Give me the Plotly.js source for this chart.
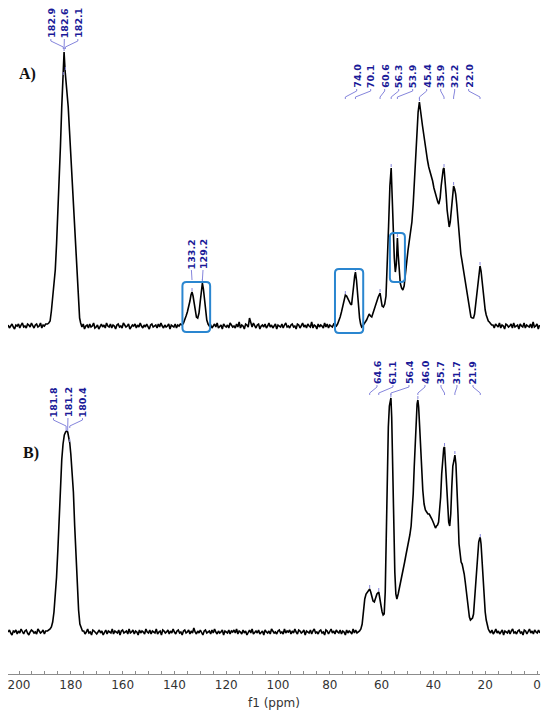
<!DOCTYPE html>
<html><head><meta charset="utf-8">
<script src="https://cdn.plot.ly/plotly-3.0.1.min.js"></script>
<style>html,body{margin:0;padding:0;background:#fff}#chart{width:550px;height:714px}</style>
</head><body><div id="chart"></div>
<script>
// ---------------- DATA (ppm, intensity) ----------------
// Spectrum A: peak regions
const A_carbonyl = [[189,2],[188.5,3],[188,5],[187.5,15],[187,28],[186.5,40],[186,56],[185.5,82],[185,112],[184.5,148],[184,180],[183.5,219],[183,250],[182.6,274],[182.2,255],[181.7,240],[181.0,219],[180.5,195],[180.0,170],[179.5,143],[179.0,117],[178.5,92],[178.0,67],[177.5,43],[177.0,22],[176.6,8],[176.2,3]];
const A_aromatic = [[137,1],[136.5,3],[136,6],[135.5,10],[135,14],[134.5,19],[134,25],[133.6,31],[133.2,34],[132.8,30],[132.4,22],[132,14],[131.5,9],[131,8],[130.5,13],[130,25],[129.6,37],[129.2,43],[128.8,37],[128.4,25],[128,14],[127.5,6],[127,2],[126.5,0]];
const A_aliphatic = [[77.5,0],[77,2],[76.5,5],[76,9],[75.5,14],[75,20],[74.5,26],[74.0,31],[73.5,30],[73,27],[72.5,25],[72,22],[71.6,21],[71.2,28],[70.8,40],[70.4,50],[70.1,54],[69.7,46],[69.3,32],[68.9,18],[68.5,8],[68.1,2],[67.7,-1],[67.3,0],[66.8,2],[66.3,3],[65.8,6],[65.3,9],[64.8,12],[64.3,10],[63.8,9],[63.3,13],[62.8,17],[62.3,22],[61.8,25],[61.3,29],[60.6,33],[60.2,27],[59.8,20],[59.3,19],[58.8,22],[58.3,30],[57.8,60],[57.3,100],[56.8,140],[56.3,158],[55.9,128],[55.5,95],[55.1,68],[54.7,54],[54.3,62],[54.0,82],[53.9,88],[53.6,72],[53.2,52],[52.8,43],[52.3,38],[51.8,36],[51.3,40],[50.8,50],[50.3,64],[49.8,76],[49.3,86],[48.8,95],[48.3,104],[47.8,122],[47.3,148],[46.8,172],[46.3,196],[45.9,214],[45.4,224],[45.0,218],[44.6,208],[44.2,200],[43.8,192],[43.3,182],[42.8,173],[42.3,166],[41.8,159],[41.3,155],[40.8,150],[40.3,145],[39.8,138],[39.3,133],[38.8,128],[38.3,124],[37.9,122],[37.4,128],[37.0,140],[36.6,150],[36.2,157],[35.9,158],[35.5,148],[35.1,132],[34.7,116],[34.3,104],[33.9,99],[33.5,104],[33.1,118],[32.7,131],[32.4,139],[32.2,140],[31.8,137],[31.4,132],[31.0,122],[30.6,108],[30.2,92],[29.8,80],[29.4,72],[29.0,66],[28.5,58],[28.0,50],[27.5,42],[27.1,34],[26.7,27],[26.3,19],[25.9,13],[25.5,9],[25.0,8],[24.5,8],[24.1,12],[23.6,24],[23.1,40],[22.6,52],[22.3,58],[22.0,60],[21.6,55],[21.2,44],[20.8,32],[20.4,22],[20.0,16],[19.6,11],[19.2,7],[18.8,5],[18.4,4],[18.0,3],[17.5,1]];
// Spectrum A: baseline noise, sampled every 0.5 ppm from the given start
const NOISE_STEP = -0.5;
const A_noise1_start = 204.2;
const A_noise1 = [1,-2,0,2,-1,-3,1,0,2,-2,1,3,-1,0,-2,2,1,-1,3,0,-2,1,2,-1,0,3,-2,1,0,2];
const A_noise2_start = 175.7;
const A_noise2 = [-1,2,-3,0,1,-2,2,-1,0,3,-2,-1,1,-3,0,2,-1,1,-2,3,0,-1,2,-2,1,0,-3,1,2,-1,0,-2,3,1,-1,0,2,-3,-1,1,0,2,-2,1,-1,3,0,-2,1,-1,2,0,-3,1,2,-1,0,1,-2,2,-1,3,0,-2,1,-1,0,2,-3,1,0,-1,2,-2,1,0,2];
const A_noise3_start = 126.0;
const A_noise3 = [1,-2,0,2,-1,3,-2,0,1,-3,2,0,-1,1,-2,3,1,-1,0,-2,2,-1,4,-2,1,0,-3,2,1,-1,8,2,-1,3,0,-2,1,2,-3,0,1,-1,2,-2,0,3,-1,1,-2,0,2,-3,1,0,-1,2,-2,1,3,-1,0,-2,1,2,-1,0,-3,2,1,-2,0,3,-1,1,-2,2,0,-1,4,-2,1,0,-3,2,-1,1,0,-2,3,-1,2,-2,1,0,-1,2];
const A_noise4_start = 17.0;
const A_noise4 = [1,-2,2,0,-1,3,-2,1,0,-3,2,1,-1,0,2,-2,3,-1,0,1,-3,2,0,-1,3,-2,1,0,-1,2,-2,4,-1,0,2,-3,1];

// Spectrum B: peak regions
const B_carbonyl = [[189,1],[188.5,2],[188,3],[187.5,5],[187,10],[186.5,20],[186,34],[185.5,55],[185,82],[184.5,112],[184,150],[183.5,172],[183,188],[182.5,197],[182,200],[181.6,201],[181.2,200],[180.8,196],[180.4,189],[180,178],[179.5,160],[179,140],[178.5,106],[178,78],[177.5,42],[177,22],[176.5,8],[176,3],[175.5,1]];
const B_aliphatic = [[68.5,1],[68,3],[67.5,8],[67,20],[66.5,33],[66,38],[65.5,40],[65,42],[64.6,43],[64.2,40],[63.8,35],[63.3,31],[62.8,30],[62.3,34],[61.8,38],[61.1,40],[60.6,34],[60.2,26],[59.8,20],[59.4,17],[59.0,18],[58.6,40],[58.2,95],[57.8,160],[57.4,205],[57.0,226],[56.6,233],[56.4,234],[56.1,215],[55.7,160],[55.3,100],[54.9,60],[54.5,38],[54.1,33],[53.6,38],[53.1,44],[52.6,50],[52.1,55],[51.6,62],[51.1,70],[50.6,77],[50.1,83],[49.6,89],[49.1,97],[48.6,106],[48.2,118],[47.8,138],[47.4,165],[47.0,192],[46.6,215],[46.3,228],[46.0,232],[45.7,225],[45.3,205],[44.9,180],[44.5,158],[44.1,142],[43.6,128],[43.1,122],[42.6,120],[42.1,118],[41.6,118],[41.1,116],[40.6,113],[40.1,110],[39.6,106],[39.2,104],[38.8,106],[38.4,107],[38.0,110],[37.6,120],[37.2,135],[36.8,158],[36.4,176],[36.0,184],[35.7,185],[35.3,168],[34.9,145],[34.5,124],[34.1,110],[33.7,106],[33.3,118],[32.9,145],[32.5,166],[32.1,171],[31.7,177],[31.3,168],[30.9,148],[30.5,118],[30.1,88],[29.7,74],[29.3,70],[28.9,68],[28.5,64],[28.1,58],[27.7,50],[27.3,40],[26.9,30],[26.5,22],[26.1,15],[25.7,12],[25.3,13],[24.9,14],[24.5,18],[24.1,32],[23.7,50],[23.3,68],[22.9,82],[22.5,90],[22.1,94],[21.9,94],[21.6,88],[21.2,70],[20.8,50],[20.4,32],[20.0,20],[19.6,12],[19.2,6],[18.8,3]];
const B_noise1_start = 204.2;
const B_noise1 = [0,2,-1,-3,1,0,2,-2,1,-1,3,0,-2,1,2,-1,-3,0,2,1,-1,0,-2,3,1,-1,0,2,-2,1];
const B_noise2_start = 175.0;
const B_noise2 = [1,-2,0,3,-1,0,-3,2,1,-1,-2,0,2,-1,1,-3,0,2,-2,1,0,-1,3,-2,1,0,-1,2,-3,1,2,-1,0,1,-2,3,-1,0,2,-2,1,0,-3,2,-1,1,0,-2,3,0,-1,2,-2,1,0,-1,3,-2,0,1,-3,2,1,-1,0,2,-2,1,-1,3,0,-2,1,2,-1,0,-3,1,2,-1,0,2,-2,1,-1,4,0,-2,1,-1,2,0,-3,1,2,-1,0,1,-2,2,-1,3,0,-2,1,-1,0,2,-3,1,0,-1,2,-2,1,0,2,-1,3,-2,1,0,-2,2,-1,1,-3,0,2,-1,3,-2,0,1,-1,2,-2,0,1,-3,2,0,-1,1,-2,3,1,-1,0,-2,1,2,-1,0,-2,3,-1,1,0,2,-2,1,-1,3,0,-2,2,1,-1,0,2,-3,1,0,-1,2,-2,1,3,-1,0,-2,1,2,-1,0,-3,2,1,-2,0,3,-1,1,-2,2,0,-1,2,-2,1,0,-3,2,-1,1,0,-2,3,-1,2,-1];
const B_noise3_start = 18.4;
const B_noise3 = [1,-1,2,-2,0,3,-1,1,-2,0,2,-3,1,0,-1,2,-2,1,3,-1,0,-2,1,2,-1,0,-3,2,1,-2,0,3,-1,1,-2,2,0,-1,2,-1];

// Peak labels (ppm)
const A_labels_1 = [182.9, 182.6, 182.1];
const A_labels_2 = [133.2, 129.2];
const A_labels_3 = [74.0, 70.1, 60.6, 56.3, 53.9, 45.4, 35.9, 32.2, 22.0];
const B_labels_1 = [181.8, 181.2, 180.4];
const B_labels_2 = [64.6, 61.1, 56.4, 46.0, 35.7, 31.7, 21.9];
// Highlighted (boxed) regions of spectrum A: [ppm from, ppm to, intensity low, intensity high]
const A_boxes = [[136.9,126.2,-6,44],[78.0,67.1,-7,57],[56.8,51.0,44,93]];
const panelNames = ['A)', 'B)'];
const axisTitle = 'f1 (ppm)';

// ---------------- BUILD ----------------
function noise(start, vals){ return vals.map((v,i)=>[+(start + i*NOISE_STEP).toFixed(2), v]); }
function assemble(parts){
  const pts = [].concat(...parts);
  pts.sort((a,b)=>b[0]-a[0]);
  return pts;
}
const specA = assemble([noise(A_noise1_start,A_noise1),A_carbonyl,noise(A_noise2_start,A_noise2),A_aromatic,noise(A_noise3_start,A_noise3),A_aliphatic,noise(A_noise4_start,A_noise4)]);
const specB = assemble([noise(B_noise1_start,B_noise1),B_carbonyl,noise(B_noise2_start,B_noise2),B_aliphatic,noise(B_noise3_start,B_noise3)]);

const X_RANGE = [204.25, -1.16];
const PLOT_W = 532;
const ppmPerPx = (X_RANGE[0]-X_RANGE[1])/PLOT_W;

function intAt(spec, p){
  let best = spec[0];
  for (const q of spec) if (Math.abs(q[0]-p) < Math.abs(best[0]-p)) best = q;
  return best[1];
}
function maxIn(spec, hi, lo){
  let m = -1e9;
  for (const q of spec) if (q[0] <= hi && q[0] >= lo && q[1] > m) m = q[1];
  return m;
}

const LABEL_COLOR = '#1a1a98';
const BRACKET_COLOR = '#8585dc';
const annotations = [];
const traces = [];

function labelGroup(spec, peaks, yaxis, spacingPx){
  const sorted = peaks.slice().sort((a,b)=>b-a);
  const n = sorted.length;
  const hi = sorted[0], lo = sorted[n-1];
  const center = (hi+lo)/2;
  const gap = spacingPx*ppmPerPx;
  const gmax = maxIn(spec, hi+0.3, lo-0.3);
  const bx = [], by = [];
  sorted.forEach((p,i)=>{
    const lx = center + ((n-1)/2 - i)*gap;
    annotations.push({x:lx, y:gmax+13, xref:'x', yref:yaxis, text:'<b>'+p.toFixed(1)+'</b>',
      textangle:-90, showarrow:false, xanchor:'center', yanchor:'bottom', borderpad:0,
      font:{family:'DejaVu Sans', size:9.5, color:LABEL_COLOR}});
    bx.push(lx, lx, p, p, null);
    by.push(gmax+13, gmax+11, gmax+5, gmax+3, null);
    const pk = intAt(spec, p);
    bx.push(p, p, null);
    by.push(pk+1, pk+4, null);
  });
  traces.push({x:bx, y:by, yaxis:yaxis, xaxis:'x', mode:'lines', line:{color:BRACKET_COLOR, width:1}, hoverinfo:'skip', connectgaps:false});
}

traces.push({x:specA.map(p=>p[0]), y:specA.map(p=>p[1]), xaxis:'x', yaxis:'y', mode:'lines', line:{color:'#000', width:1.6}, hoverinfo:'skip'});
traces.push({x:specB.map(p=>p[0]), y:specB.map(p=>p[1]), xaxis:'x', yaxis:'y2', mode:'lines', line:{color:'#000', width:1.6}, hoverinfo:'skip'});

labelGroup(specA, A_labels_1, 'y', 13.5);
labelGroup(specA, A_labels_2, 'y', 11.6);
labelGroup(specA, A_labels_3, 'y', 14);
labelGroup(specB, B_labels_1, 'y2', 14.5);
labelGroup(specB, B_labels_2, 'y2', 16);

// rounded highlight boxes
const shapes = A_boxes.map(b=>{
  const L=b[0], R=b[1], lo=b[2], hi=b[3];
  const rx = 4*ppmPerPx, ry = 4;
  const d = `M ${L-rx},${hi} L ${R+rx},${hi} Q ${R},${hi} ${R},${hi-ry} L ${R},${lo+ry} Q ${R},${lo} ${R+rx},${lo} L ${L-rx},${lo} Q ${L},${lo} ${L},${lo+ry} L ${L},${hi-ry} Q ${L},${hi} ${L-rx},${hi} Z`;
  return {type:'path', path:d, xref:'x', yref:'y', line:{color:'#2a86d0', width:2}, fillcolor:'rgba(0,0,0,0)'};
});

annotations.push({x:0.0367, y:0.890, xref:'paper', yref:'paper', text:'<b>'+panelNames[0]+'</b>', showarrow:false,
  xanchor:'center', yanchor:'middle', font:{family:'Liberation Serif', size:16, color:'#111'}});
annotations.push({x:0.0429, y:0.328, xref:'paper', yref:'paper', text:'<b>'+panelNames[1]+'</b>', showarrow:false,
  xanchor:'center', yanchor:'middle', font:{family:'Liberation Serif', size:16, color:'#111'}});

const layout = {
  width:550, height:714,
  margin:{l:8, r:10, t:0, b:40},
  paper_bgcolor:'#fff', plot_bgcolor:'#fff',
  showlegend:false,
  xaxis:{range:X_RANGE, anchor:'y2', showline:true, linecolor:'#8c8c8c', linewidth:1,
    ticks:'inside', ticklen:3, tickcolor:'#8c8c8c', tick0:0, dtick:20,
    minor:{dtick:5, ticks:'inside', ticklen:3, tickcolor:'#8c8c8c'},
    showgrid:false, zeroline:false,
    tickfont:{family:'DejaVu Sans', size:12, color:'#333'},
    title:{text:axisTitle, font:{family:'DejaVu Sans', size:12, color:'#333'}, standoff:7}},
  yaxis:{domain:[0.4955,1], range:[-14,326], visible:false},
  yaxis2:{domain:[0,0.4881], range:[-42,287], visible:false},
  annotations:annotations,
  shapes:shapes
};

Plotly.newPlot('chart', traces, layout, {displayModeBar:false, staticPlot:true});
</script></body></html>
